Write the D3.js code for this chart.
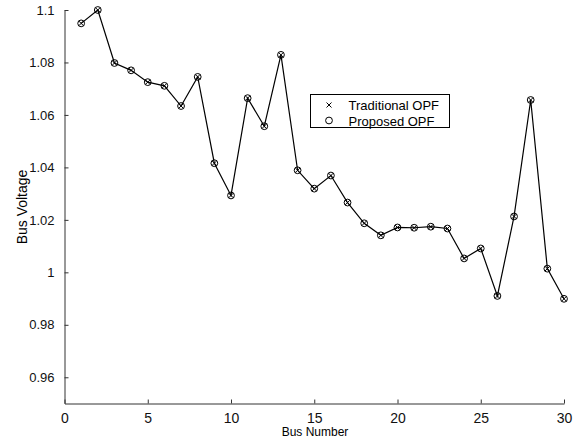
<!DOCTYPE html>
<html lang="en">
<head>
    <meta charset="UTF-8">
    <title>Bus Voltage</title>
    <script src="https://d3js.org/d3.v7.min.js"></script>
    <style>
        body { margin: 0; background: #fff; }
        text { font-family: "Liberation Sans", Arial, sans-serif; fill: #000; }
        .axis path, .axis line { stroke: #333; stroke-width: 1; }
        .axis text { font-size: 13px; fill: #111; }
        .curve { fill: none; stroke: #000; stroke-width: 1.2px; }
        .mark { fill: none; stroke: #000; stroke-width: 1px; }
    </style>
</head>
<body>
    <svg width="582" height="440"></svg>
    <script>
        // bus numbers 1..30
        const buses = [1, 2, 3, 4, 5, 6, 7, 8, 9, 10, 11, 12, 13, 14, 15,
                       16, 17, 18, 19, 20, 21, 22, 23, 24, 25, 26, 27, 28, 29, 30];
        // traditional OPF and proposed OPF give the same voltages in the figure
        const traditional = [1.0949, 1.1000, 1.0798, 1.0770, 1.0725, 1.0711, 1.0634, 1.0745, 1.0416, 1.0293,
                             1.0664, 1.0557, 1.0829, 1.0389, 1.0319, 1.0369, 1.0266, 1.0187, 1.0141, 1.0171,
                             1.0170, 1.0174, 1.0167, 1.0053, 1.0091, 0.9910, 1.0213, 1.0657, 1.0014, 0.9899];
        const proposed = traditional.slice();
        const xTicks = [0, 5, 10, 15, 20, 25, 30];
        const yTicks = [0.96, 0.98, 1.00, 1.02, 1.04, 1.06, 1.08, 1.10];
        const seriesNames = ["Traditional OPF", "Proposed OPF"];

        const svg = d3.select("svg");

        const x = d3.scaleLinear().domain([0, 30]).range([64.5, 564]);
        const y = d3.scaleLinear().domain([0.95, 1.1]).range([403.5, 10]);

        svg.append("g")
            .attr("class", "axis")
            .attr("transform", "translate(0,403.5)")
            .call(d3.axisBottom(x).tickValues(xTicks).tickSizeInner(-4).tickSizeOuter(0).tickPadding(10)
                .tickFormat(d3.format("d")))
            .call(g => g.selectAll("text").style("font-size", "14px"));

        svg.append("g")
            .attr("class", "axis")
            .attr("transform", "translate(64.5,0)")
            .call(d3.axisLeft(y).tickValues(yTicks).tickSizeInner(-4).tickSizeOuter(0).tickPadding(10)
                .tickFormat(d => String(+d.toFixed(2))));

        // labels
        svg.append("text")
            .attr("x", 315)
            .attr("y", 436)
            .attr("text-anchor", "middle")
            .style("font-size", "12px")
            .text("Bus Number");

        svg.append("text")
            .attr("transform", "translate(27,207) rotate(-90)")
            .attr("text-anchor", "middle")
            .style("font-size", "14px")
            .text("Bus Voltage");

        const line = d3.line()
            .x((d, i) => x(buses[i]))
            .y(d => y(d));

        svg.append("path")
            .datum(traditional)
            .attr("class", "curve")
            .attr("d", line);

        // x markers (traditional)
        svg.append("g")
            .selectAll("path")
            .data(traditional)
            .enter().append("path")
            .attr("class", "mark")
            .attr("d", (d, i) => {
                const cx = x(buses[i]), cy = y(d), s = 2.4;
                return `M${cx - s},${cy - s}L${cx + s},${cy + s}M${cx - s},${cy + s}L${cx + s},${cy - s}`;
            });

        // o markers (proposed)
        svg.append("g")
            .selectAll("circle")
            .data(proposed)
            .enter().append("circle")
            .attr("class", "mark")
            .attr("cx", (d, i) => x(buses[i]))
            .attr("cy", d => y(d))
            .attr("r", 3.4);

        // legend
        const legend = svg.append("g").attr("transform", "translate(310.5,94.5)");
        legend.append("rect")
            .attr("width", 139)
            .attr("height", 33)
            .attr("fill", "#fff")
            .attr("stroke", "#000")
            .attr("stroke-width", 1);

        legend.append("path")
            .attr("class", "mark")
            .attr("d", "M16,8L21,13M16,13L21,8");
        legend.append("circle")
            .attr("class", "mark")
            .attr("cx", 18.5)
            .attr("cy", 26)
            .attr("r", 3.4);

        legend.selectAll("text.lab")
            .data(seriesNames)
            .enter().append("text")
            .attr("class", "lab")
            .attr("x", 38)
            .attr("y", (d, i) => 15 + i * 16)
            .style("font-size", "13px")
            .text(d => d);
    </script>
</body>
</html>
